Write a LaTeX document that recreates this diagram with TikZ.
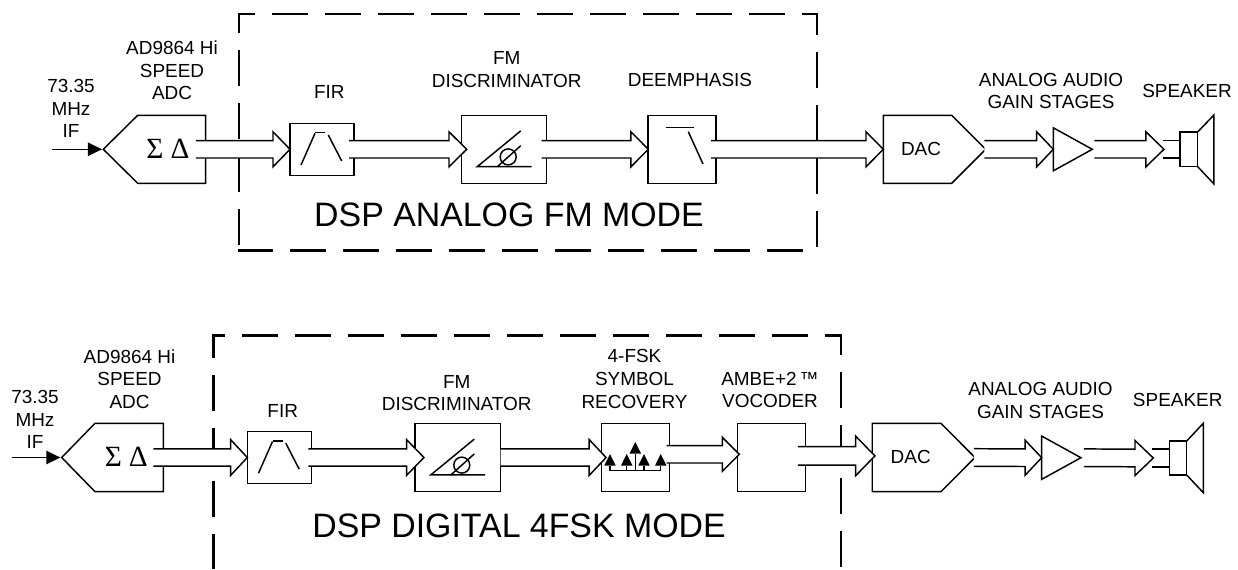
\documentclass[tikz,border=0pt]{standalone}
\usepackage{fontspec}
\setmainfont{Liberation Sans}
\newfontfamily\symfont{Liberation Serif}
\usetikzlibrary{calc,arrows.meta}
\tikzset{
  box size/.style 2 args={minimum width=#1*0.75pt,minimum height=#2*0.75pt},
  ln/.style={line width=1.1pt,line join=miter},
  blk/.style={ln,draw,rectangle,inner sep=0pt,outer sep=0pt},
  frame/.style={rectangle,inner sep=0pt,outer sep=0pt},
  lbl/.style={font=\fontsize{14.2pt}{17pt}\selectfont,align=center,inner sep=0pt},
  title/.style={font=\fontsize{25.4pt}{30pt}\selectfont,inner sep=0pt},
  sigma/.style={font=\symfont\fontsize{22pt}{24pt}\selectfont,inner sep=0pt},
  fence/.style={line width=2pt,dash pattern=on 27pt off 12.75pt},
  tip/.style={line width=1.1pt,-{Triangle[length=10.5pt,width=10pt]},shorten >=1pt},
}
% converter outlines drawn on a named frame node: pointer on the left / right
\newcommand\adcshape[2]{\draw[ln] (#1.west) -- ($(#1.north west)+(#2,0)$) -- (#1.north east) -- (#1.south east) -- ($(#1.south west)+(#2,0)$) -- cycle;}
\newcommand\dacshape[2]{\draw[ln] (#1.east) -- ($(#1.north east)+(-#2,0)$) -- (#1.north west) -- (#1.south west) -- ($(#1.south east)+(-#2,0)$) -- cycle;}
\newcommand\ampshape[1]{\draw[ln] (#1.north west) -- (#1.east) -- (#1.south west) -- cycle;}
% fat double-line arrow: from, to, half gap, half head, head length (px)
\newcommand\fatarrow[5]{%
  \coordinate (fs) at (#1);\coordinate (ft) at (#2);
  \fill[white] ($(fs)+(0,#3)$) -- ($(ft)+(-#5,#3)$) -- ($(ft)+(-#5,#4)$) -- (ft)
     -- ($(ft)+(-#5,-#4)$) -- ($(ft)+(-#5,-#3)$) -- ($(fs)+(0,-#3)$) -- cycle;
  \draw[ln] ($(fs)+(0,#3)$) -- ($(ft)+(-#5,#3)$) -- ($(ft)+(-#5,#4)$) -- (ft)
     -- ($(ft)+(-#5,-#4)$) -- ($(ft)+(-#5,-#3)$) -- ($(fs)+(0,-#3)$);
}
\newcommand\firsym[1]{\begin{scope}[shift={(#1.center)},ln]
  \draw (-21,15.7) -- (-7,-16);
  \draw (-7,-16.6) -- (3,-16.6);
  \draw (6.3,-14.3) -- (19.7,11.7);
\end{scope}}
\newcommand\fmsym[1]{\begin{scope}[shift={(#1.center)},ln]
  \draw (16.5,-18.4) -- (-27,17.4) -- (27.4,17.4);
  \draw (4,7.6) circle[radius=8];
  \draw (-6.9,17.4) -- (16.5,-3.6);
\end{scope}}
\begin{document}
\begin{tikzpicture}[x=0.75pt,y=-0.75pt]
\useasboundingbox (0,0) rectangle (1238,569);
% ---------- dashed enclosures
\draw[fence,dash phase=14.25pt] (238,14) -- (818,14);
\draw[fence,dash phase=12.75pt] (239,14) -- (239,246);
\draw[fence,dash phase=11.25pt] (817,14) -- (817,248);
\draw[fence,dash phase=1.1pt] (238,250.7) -- (805,250.7);
\draw[fence,dash phase=17.5pt] (212.3,335.7) -- (842,335.7);
\draw[fence,dash phase=10.25pt] (213.3,335.7) -- (213.3,569);
\draw[fence,dash phase=12.5pt] (841,335.7) -- (841,567);
% ---------- upper chain
\node[frame,box size={102.4}{68}] (tadc) at (154.5,149.3) {};
\adcshape{tadc}{34.4}
\coordinate (tin) at (52.3,149.3);
\draw[tip] (tin) -- (tadc.west);
\node[sigma] (tsig) at (155,149) {Σ};
\node[sigma] (tdel) at (180,149) {Δ};
\node[blk,box size={64}{52}] (tfir) at (322,149.3) {};
\fatarrow{[xshift=-7.3pt]tadc.east}{tfir.west}{8.7}{17.5}{17}
\firsym{tfir}
\node[blk,box size={85}{68}] (tfm) at (504.2,149.3) {};
\fatarrow{[xshift=-3.75pt]tfir.east}{[xshift=3.75pt]tfm.west}{8.7}{17.5}{17.7}
\fmsym{tfm}
\node[blk,box size={68}{68}] (tde) at (682,149.3) {};
\fatarrow{[xshift=-3.75pt]tfm.east}{[xshift=0.2pt]tde.west}{8.7}{17.5}{17.3}
\draw[ln] ($(tde.center)+(-16.3,-22)$) -- ($(tde.center)+(11.7,-22)$);
\draw[ln] ($(tde.center)+(6.3,-17.6)$) -- ($(tde.center)+(21,14.7)$);
\node[frame,box size={102.4}{68}] (tdac) at (934.5,149.3) {};
\dacshape{tdac}{34}
\fatarrow{[xshift=-3.75pt]tde.east}{tdac.west}{8.7}{17.5}{17.3}
\node[lbl] (tdact) at (921,148.5) {DAC};
\node[frame,box size={39}{43}] (tamp) at (1072.8,149.3) {};
\ampshape{tamp}
\fatarrow{[xshift=-1pt]tdac.east}{tamp.west}{8.7}{17.5}{16.6}
\node[blk,box size={17.7}{34.7}] (tspk) at (1188.8,149.3) {};
\fatarrow{[xshift=1.5pt]tamp.east}{[xshift=-12pt]tspk.west}{8.7}{17.5}{18}
\draw[ln] ([yshift=6.5pt]tspk.west) -- ++(-17.3,0);
\draw[ln] ([yshift=-6.5pt]tspk.west) -- ++(-17.3,0);
\draw[ln] (tspk.north east) -- ++(16.3,-17) -- ++(0,69) -- (tspk.south east);
% ---------- upper labels
\node[lbl] (l1) at (71,108.5) {73.35\\MHz\\IF};
\node[lbl] (l2) at (172,70.5) {AD9864 Hi\\SPEED\\ADC};
\node[lbl] (l3) at (329.3,91.7) {FIR};
\node[lbl] (l4) at (506.7,69.5) {FM\\DISCRIMINATOR};
\node[lbl] (l5) at (690,80) {DEEMPHASIS};
\node[lbl] (l6) at (1051,91) {ANALOG AUDIO\\GAIN STAGES};
\node[lbl] (l7) at (1187,90.7) {SPEAKER};
\node[title] (l8) at (509,215) {DSP ANALOG FM MODE};
% ---------- lower chain
\node[frame,box size={101.6}{68.4}] (badc) at (112.5,457.5) {};
\adcshape{badc}{33.3}
\coordinate (bin) at (11.7,457.5);
\draw[tip] (bin) -- (badc.west);
\node[sigma] (bsig) at (113.3,457) {Σ};
\node[sigma] (bdel) at (138.3,457) {Δ};
\node[blk,box size={64.4}{51.6}] (bfir) at (279.5,457.5) {};
\fatarrow{[xshift=-7.5pt]badc.east}{bfir.west}{8.7}{17.8}{16.6}
\firsym{bfir}
\node[blk,box size={85.7}{67.5}] (bfm) at (457.8,457.5) {};
\fatarrow{[xshift=-2.5pt]bfir.east}{[xshift=6.75pt]bfm.west}{8.7}{17.8}{17.3}
\fmsym{bfm}
\node[blk,box size={67.6}{67.5}] (brec) at (635.5,457.5) {};
\fatarrow{bfm.east}{[xshift=3.3pt]brec.west}{8.7}{18}{17}
\foreach \tx/\ty in {-25.5/8,-8.8/8,8.5/8,25.2/8,-0.2/-4}{
  \fill ($(brec.center)+(\tx,\ty-11.5)$) -- ($(brec.center)+(\tx-5.7,\ty)$) -- ($(brec.center)+(\tx+5.7,\ty)$) -- cycle;
}
\node[blk,box size={68}{67.5}] (bvoc) at (771.7,457.5) {};
\fatarrow{[xshift=-2pt,yshift=2.4pt]brec.east}{[xshift=1.2pt,yshift=2.4pt]bvoc.west}{8.7}{17}{17}
\draw[line width=0.8pt] ($(brec.center)+(-25.5,13.2)$) -- ($(brec.center)+(25.2,13.2)$);
\foreach \tx in {-25.5,-8.8,8.5,25.2}{\draw[line width=0.8pt] ($(brec.center)+(\tx,8)$) -- ($(brec.center)+(\tx,13.2)$);}
\draw[line width=0.8pt] ($(brec.center)+(-0.2,-4)$) -- ($(brec.center)+(-0.2,13.2)$);
\node[frame,box size={102.7}{68.4}] (bdac) at (923.6,457.5) {};
\dacshape{bdac}{34}
\fatarrow{[xshift=-5.8pt,yshift=1.2pt]bvoc.east}{[xshift=2pt,yshift=1.2pt]bdac.west}{9.3}{19.8}{19.3}
\node[lbl] (bdact) at (910.7,457) {DAC};
\node[frame,box size={39.3}{43.3}] (bamp) at (1061.3,457.7) {};
\ampshape{bamp}
\fatarrow{[xshift=-0.75pt]bdac.east}{bamp.west}{8.8}{17.5}{16.5}
\node[blk,box size={17.4}{34}] (bspk) at (1178,458) {};
\fatarrow{[xshift=2.25pt]bamp.east}{[xshift=-12pt]bspk.west}{8.8}{17.5}{18.3}
\draw[ln] ([yshift=6.6pt]bspk.west) -- ++(-17.6,0);
\draw[ln] ([yshift=-6.6pt]bspk.west) -- ++(-17.6,0);
\draw[ln] (bspk.north east) -- ++(16.6,-17.7) -- ++(0,69.4) -- (bspk.south east);
% ---------- lower labels
\node[lbl] (m1) at (35,419.5) {73.35\\MHz\\IF};
\node[lbl] (m2) at (129.5,379) {AD9864 Hi\\SPEED\\ADC};
\node[lbl] (m3) at (282.7,410.7) {FIR};
\node[lbl] (m4) at (456.7,393) {FM\\DISCRIMINATOR};
\node[lbl] (m5) at (634.5,379) {4-FSK\\SYMBOL\\RECOVERY};
\node[lbl] (m6) at (770,390) {AMBE+2\,™\\VOCODER};
\node[lbl] (m7) at (1040.5,400.5) {ANALOG AUDIO\\GAIN STAGES};
\node[lbl] (m8) at (1177.7,400) {SPEAKER};
\node[title] (m9) at (519,526) {DSP DIGITAL 4FSK MODE};
\end{tikzpicture}
\end{document}
